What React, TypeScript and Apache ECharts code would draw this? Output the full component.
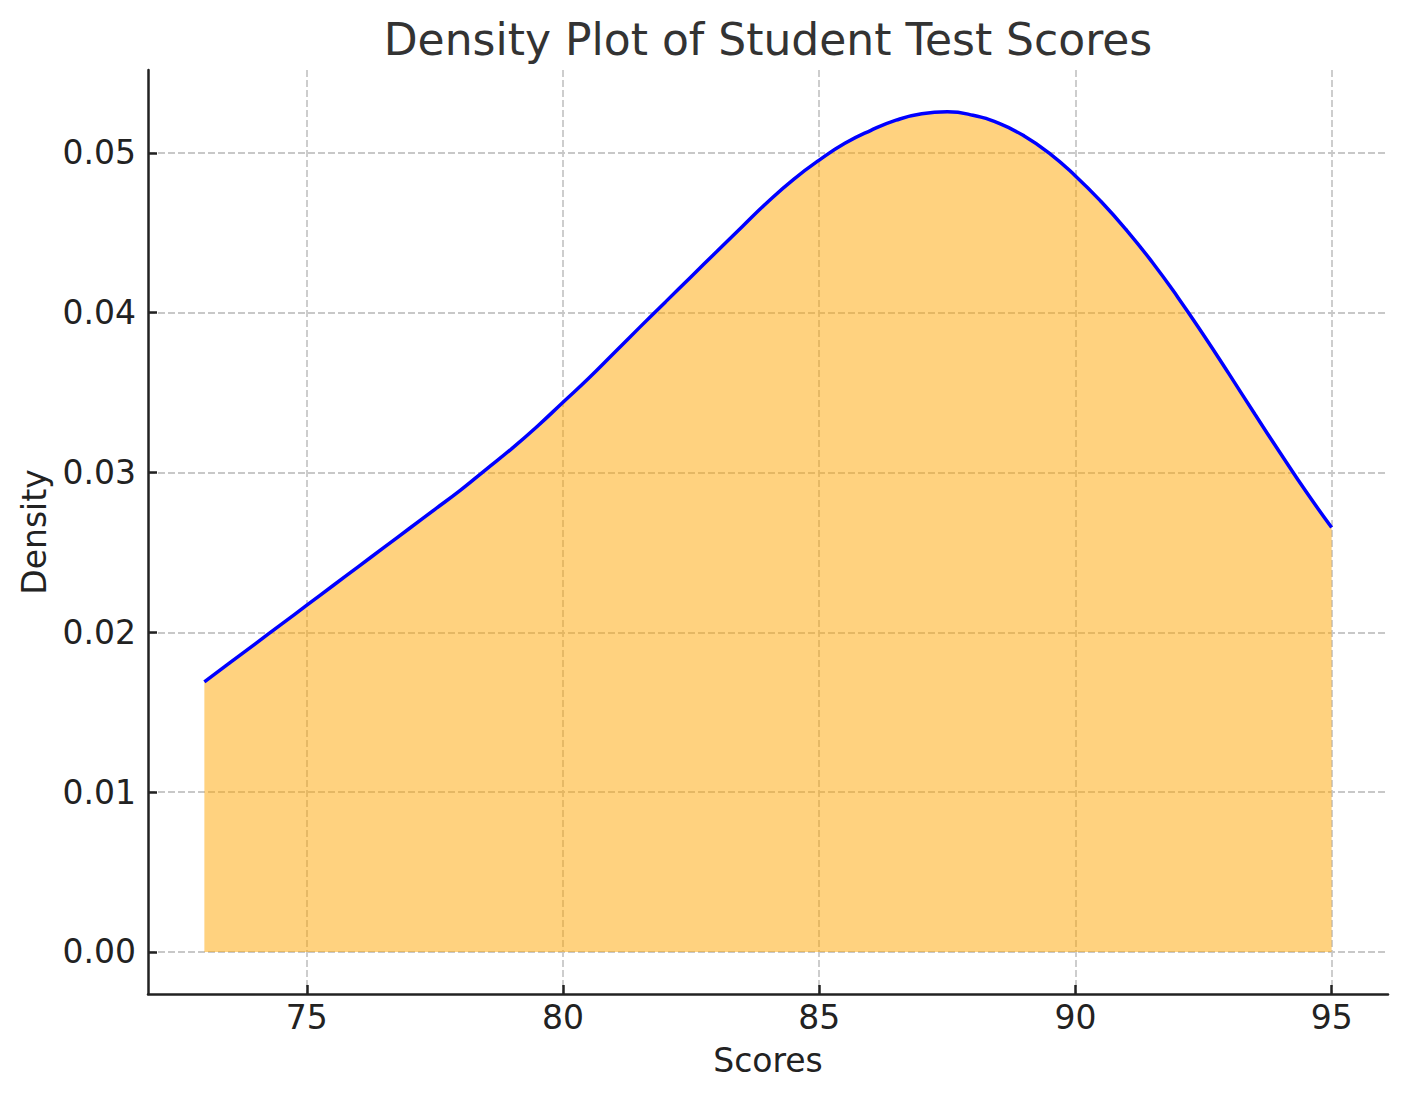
import { useEffect, useRef } from "react";
import * as echarts from "echarts";

const titleText = "Density Plot of Student Test Scores";
const xName = "Scores";
const yName = "Density";

const scores = [
  73, 73.5, 74, 74.5, 75, 75.5, 76, 76.5, 77, 77.5, 78, 78.5, 79, 79.5, 80, 80.5,
  81, 81.5, 82, 82.5, 83, 83.5, 84, 84.5, 85, 85.5, 86, 86.5, 87, 87.5, 88, 88.5,
  89, 89.5, 90, 90.5, 91, 91.5, 92, 92.5, 93, 93.5, 94, 94.5, 95,
];
const density = [
  0.0169, 0.0181, 0.0193, 0.0205, 0.0217, 0.0229, 0.0241, 0.0253, 0.0265, 0.0277,
  0.0289, 0.0302, 0.0315, 0.0329, 0.0344, 0.0359, 0.0375, 0.0391, 0.04068, 0.04226,
  0.04383, 0.0454, 0.04695, 0.04835, 0.04955, 0.0506, 0.0514, 0.05205, 0.05245, 0.05257,
  0.05236, 0.05186, 0.05106, 0.04996, 0.04856, 0.04696, 0.04516, 0.04316, 0.04096, 0.03861,
  0.03616, 0.03366, 0.03121, 0.02881, 0.02656,
];

const xTicks = [75, 80, 85, 90, 95];
const yTicks = [0, 0.01, 0.02, 0.03, 0.04, 0.05];
const xRange = [71.9, 96.1];
const yRange = [-0.00263, 0.05519];

const FONT = "DejaVu Sans";
const TEXT = "#222222";

export default function App() {
  const ref = useRef<HTMLDivElement>(null);

  useEffect(() => {
    if (!ref.current) return;
    const chart = echarts.init(ref.current, undefined, { renderer: "svg" });
    const points = scores.map((s, i) => [s, density[i]]);
    const gridLine = {
      show: true,
      lineStyle: { color: "#c8c8c8", width: 1.8, type: [7, 3] as any },
    };
    const axisLine = {
      show: true,
      onZero: false,
      lineStyle: { color: TEXT, width: 2.5 },
    };
    chart.setOption({
      animation: false,
      backgroundColor: "#ffffff",
      title: {
        text: titleText,
        left: 768,
        top: 17,
        padding: 0,
        textAlign: "center",
        textStyle: {
          fontFamily: FONT,
          fontSize: 44,
          fontWeight: "normal",
          color: "#333333",
        },
      },
      grid: {
        left: 148,
        right: 20,
        top: 70,
        bottom: 107,
        containLabel: false,
        outerBoundsMode: "none",
      },
      xAxis: {
        type: "value",
        min: xRange[0],
        max: xRange[1],
        name: xName,
        nameLocation: "middle",
        nameGap: 50,
        nameTextStyle: { fontFamily: FONT, fontSize: 33, color: TEXT },
        axisLine,
        axisTick: {
          show: true,
          inside: true,
          length: 9,
          customValues: xTicks,
          lineStyle: { color: TEXT, width: 2.5 },
        },
        axisLabel: {
          show: true,
          customValues: xTicks,
          margin: 7,
          fontFamily: FONT,
          fontSize: 33,
          color: TEXT,
          formatter: (v: number) => String(v),
        },
        splitLine: gridLine,
      },
      yAxis: {
        type: "value",
        min: yRange[0],
        max: yRange[1],
        name: yName,
        nameLocation: "middle",
        nameGap: 97,
        nameTextStyle: { fontFamily: FONT, fontSize: 33, color: TEXT },
        axisLine,
        axisTick: {
          show: true,
          inside: true,
          length: 9,
          customValues: yTicks,
          lineStyle: { color: TEXT, width: 2.5 },
        },
        axisLabel: {
          show: true,
          customValues: yTicks,
          margin: 12,
          fontFamily: FONT,
          fontSize: 33,
          color: TEXT,
          formatter: (v: number) => v.toFixed(2),
        },
        splitLine: gridLine,
      },
      series: [
        {
          type: "line",
          data: points,
          smooth: 0.5,
          showSymbol: false,
          symbol: "none",
          lineStyle: { color: "#0000ff", width: 3.5 },
          itemStyle: { color: "#0000ff" },
          areaStyle: { color: "#ffa500", opacity: 0.5, origin: "auto" },
          z: 3,
        },
      ],
    });
    return () => chart.dispose();
  }, []);

  return (
    <div
      ref={ref}
      style={{ position: "fixed", left: 0, top: 0, width: 1408, height: 1101 }}
    />
  );
}
